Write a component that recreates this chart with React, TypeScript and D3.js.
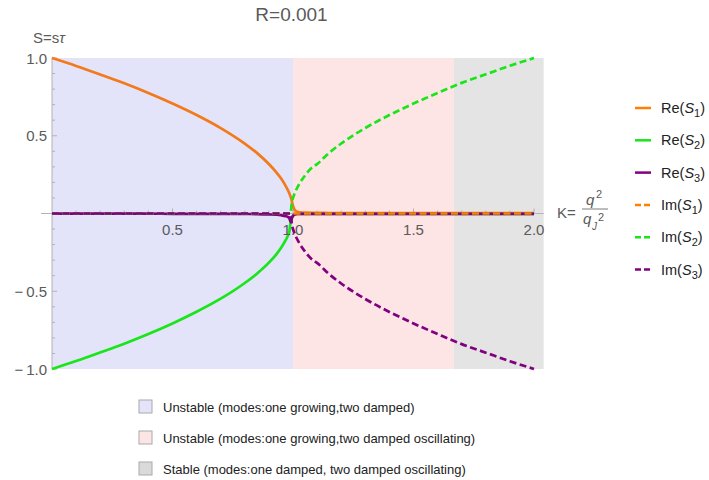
import React from "react";
import * as d3 from "d3";

const K = [0, 0.1, 0.2, 0.3, 0.4, 0.5, 0.6, 0.7, 0.8, 0.85, 0.9, 0.93, 0.95, 0.97, 0.98, 0.985, 0.99, 0.995, 1.0, 1.005, 1.01, 1.02, 1.03, 1.05, 1.08, 1.1, 1.15, 1.2, 1.3, 1.4, 1.5, 1.6, 1.7, 1.8, 1.9, 2.0];

const reS1 = [1.0, 0.949, 0.894, 0.837, 0.775, 0.707, 0.633, 0.549, 0.449, 0.39, 0.318, 0.266, 0.226, 0.176, 0.146, 0.128, 0.108, 0.08, 0.05, 0.028, 0.017, 0.01, 0.007, 0.005, 0.004, 0.004, 0.003, 0.003, 0.003, 0.003, 0.003, 0.003, 0.003, 0.003, 0.003, 0.003];
const reS2 = [-1.0, -0.949, -0.894, -0.837, -0.775, -0.707, -0.632, -0.548, -0.447, -0.387, -0.316, -0.264, -0.222, -0.17, -0.138, -0.115, -0.054, -0.03, -0.015, -0.008, -0.005, -0.003, -0.002, -0.002, -0.002, -0.002, -0.002, -0.002, -0.002, -0.002, -0.002, -0.002, -0.002, -0.002, -0.002, -0.002];
const reS3 = [0, -0.001, -0.001, -0.001, -0.001, -0.002, -0.002, -0.002, -0.003, -0.004, -0.006, -0.008, -0.011, -0.017, -0.023, -0.03, -0.054, -0.03, -0.015, -0.008, -0.005, -0.003, -0.002, -0.002, -0.002, -0.002, -0.002, -0.002, -0.002, -0.002, -0.002, -0.002, -0.002, -0.002, -0.002, -0.002];
const imS1 = [0, 0, 0, 0, 0, 0, 0, 0, 0, 0, 0, 0, 0, 0, 0, 0, 0, 0, 0, 0, 0, 0, 0, 0, 0, 0, 0, 0, 0, 0, 0, 0, 0, 0, 0, 0];
const imS2 = [0, 0, 0, 0, 0, 0, 0, 0, 0, 0, 0, 0, 0, 0, 0, 0, 0, 0.07, 0.1, 0.122, 0.141, 0.173, 0.2, 0.245, 0.297, 0.318, 0.39, 0.45, 0.55, 0.633, 0.707, 0.775, 0.84, 0.895, 0.95, 1.0];
const imS3 = [0, 0, 0, 0, 0, 0, 0, 0, 0, 0, 0, 0, 0, 0, 0, 0, 0, -0.07, -0.1, -0.122, -0.141, -0.173, -0.2, -0.245, -0.297, -0.318, -0.39, -0.45, -0.55, -0.633, -0.707, -0.775, -0.84, -0.895, -0.95, -1.0];

const seriesNames = ["Re", "Re", "Re", "Im", "Im", "Im"];
const seriesIdx = ["1", "2", "3", "1", "2", "3"];
const seriesValues = [reS1, reS2, reS3, imS1, imS2, imS3];
const seriesColors = ["#F27A1A", "#19E619", "#800080", "#FF8000", "#19E619", "#800080"];
const legendColors = ["#FF8000", "#19E619", "#800080", "#FF8000", "#19E619", "#800080"];
const seriesDashed = [false, false, false, true, true, true];

const regionBounds = [0, 1.0, 1.667, 2.04];
const regionColors = ["#E3E3FA", "#FDE4E5", "#E4E4E4"];
const regionLabels = [
  "Unstable (modes:one growing,two damped)",
  "Unstable (modes:one growing,two damped oscillating)",
  "Stable (modes:one damped, two damped oscillating)",
];
const regionSwatch = ["#E3E3FA", "#FDE4E5", "#DADADA"];

const xTickLabels = [0.5, 1.0, 1.5, 2.0];
const yTickLabels = [-1.0, -0.5, 0.5, 1.0];

const FONT = "'Liberation Sans', Arial, Helvetica, sans-serif";

export default function App() {
  const x = d3.scaleLinear().domain([0, 2]).range([52, 534]);
  const y = d3.scaleLinear().domain([-1, 1]).range([369, 58]);
  const line = (vals: number[]) =>
    d3
      .line<number>()
      .x((_, i) => x(K[i]))
      .y((v) => y(v))
      .curve(d3.curveMonotoneX)(vals) as string;

  const minorX = d3.range(1, 21).map((i) => i / 10);
  const minorY = d3.range(-10, 11).map((i) => i / 10).filter((v) => Math.abs(v) > 1e-9);
  const axisColor = "#B3B3B3";
  const tickText = "#5A5A5A";

  return (
    <svg width={709} height={480} style={{ position: "absolute", left: 0, top: 0 }} fontFamily={FONT}>
      {regionColors.map((c, i) => (
        <rect
          key={i}
          x={x(regionBounds[i])}
          y={y(1)}
          width={x(regionBounds[i + 1]) - x(regionBounds[i])}
          height={y(-1) - y(1)}
          fill={c}
        />
      ))}
      <line x1={41} x2={x(2.04)} y1={y(0)} y2={y(0)} stroke={axisColor} strokeWidth={1} />
      <line x1={x(0)} x2={x(0)} y1={y(1)} y2={y(-1)} stroke={axisColor} strokeWidth={1} />
      {minorX.map((v) => {
        const major = Math.abs(v * 2 - Math.round(v * 2)) < 1e-9;
        return (
          <line key={"xt" + v} x1={x(v)} x2={x(v)} y1={y(0)} y2={y(0) - (major ? 5 : 3)} stroke={axisColor} strokeWidth={1} />
        );
      })}
      {minorY.map((v) => {
        const major = Math.abs(v * 2 - Math.round(v * 2)) < 1e-9;
        return (
          <line key={"yt" + v} x1={x(0)} x2={x(0) + (major ? 5 : 3)} y1={y(v)} y2={y(v)} stroke={axisColor} strokeWidth={1} />
        );
      })}
      {seriesValues.map((vals, i) => (
        <path
          key={"s" + i}
          d={line(vals)}
          fill="none"
          stroke={seriesColors[i]}
          strokeWidth={2.7}
          strokeDasharray={seriesDashed[i] ? "7,3.5" : undefined}
        />
      ))}
      {xTickLabels.map((v) => (
        <text key={"xl" + v} x={x(v)} y={y(0) + 21} textAnchor="middle" fontSize={15} fill={tickText}>
          {v.toFixed(1)}
        </text>
      ))}
      {yTickLabels.map((v) => (
        <text key={"yl" + v} x={x(0) - 5} y={y(v) + 5.5} textAnchor="end" fontSize={15} fill={tickText}>
          {v < 0 ? "\u2212\u2009" + Math.abs(v).toFixed(1) : v.toFixed(1)}
        </text>
      ))}
      <text x={291.5} y={21} textAnchor="middle" fontSize={19} fill="#5A5A5A">
        R=0.001
      </text>
      <text x={33} y={43} fontSize={15} fill={tickText}>
        S=s<tspan fontStyle="italic">τ</tspan>
      </text>
      <g fill={tickText} fontSize={15}>
        <text x={557} y={218}>K=</text>
        <line x1={582} x2={608} y1={209} y2={209} stroke={tickText} strokeWidth={0.8} />
        <text x={586} y={205} fontStyle="italic">q</text>
        <text x={596} y={198} fontSize={11}>2</text>
        <text x={583} y={224} fontStyle="italic">q</text>
        <text x={592} y={230} fontSize={10} fontStyle="italic">J</text>
        <text x={598} y={221} fontSize={11}>2</text>
      </g>
      {seriesValues.map((_, i) => {
        const ry = 108 + i * 32.3;
        return (
          <g key={"lg" + i}>
            <line
              x1={635}
              x2={651}
              y1={ry}
              y2={ry}
              stroke={legendColors[i]}
              strokeWidth={2.5}
              strokeDasharray={seriesDashed[i] ? "6,3" : undefined}
            />
            <text x={661} y={ry + 5} fontSize={14.5} fill="#222">
              {seriesNames[i]}(<tspan fontStyle="italic">S</tspan>
              <tspan dy={4} fontSize={11}>{seriesIdx[i]}</tspan>
              <tspan dy={-4}>)</tspan>
            </text>
          </g>
        );
      })}
      {regionLabels.map((t, i) => {
        const ry = 407 + i * 31;
        return (
          <g key={"bl" + i}>
            <rect x={139} y={ry - 7} width={13} height={13} fill={regionSwatch[i]} stroke="#AAAAAA" strokeWidth={1} />
            <text x={163} y={ry + 4.5} fontSize={13} fill="#222">
              {t}
            </text>
          </g>
        );
      })}
    </svg>
  );
}
